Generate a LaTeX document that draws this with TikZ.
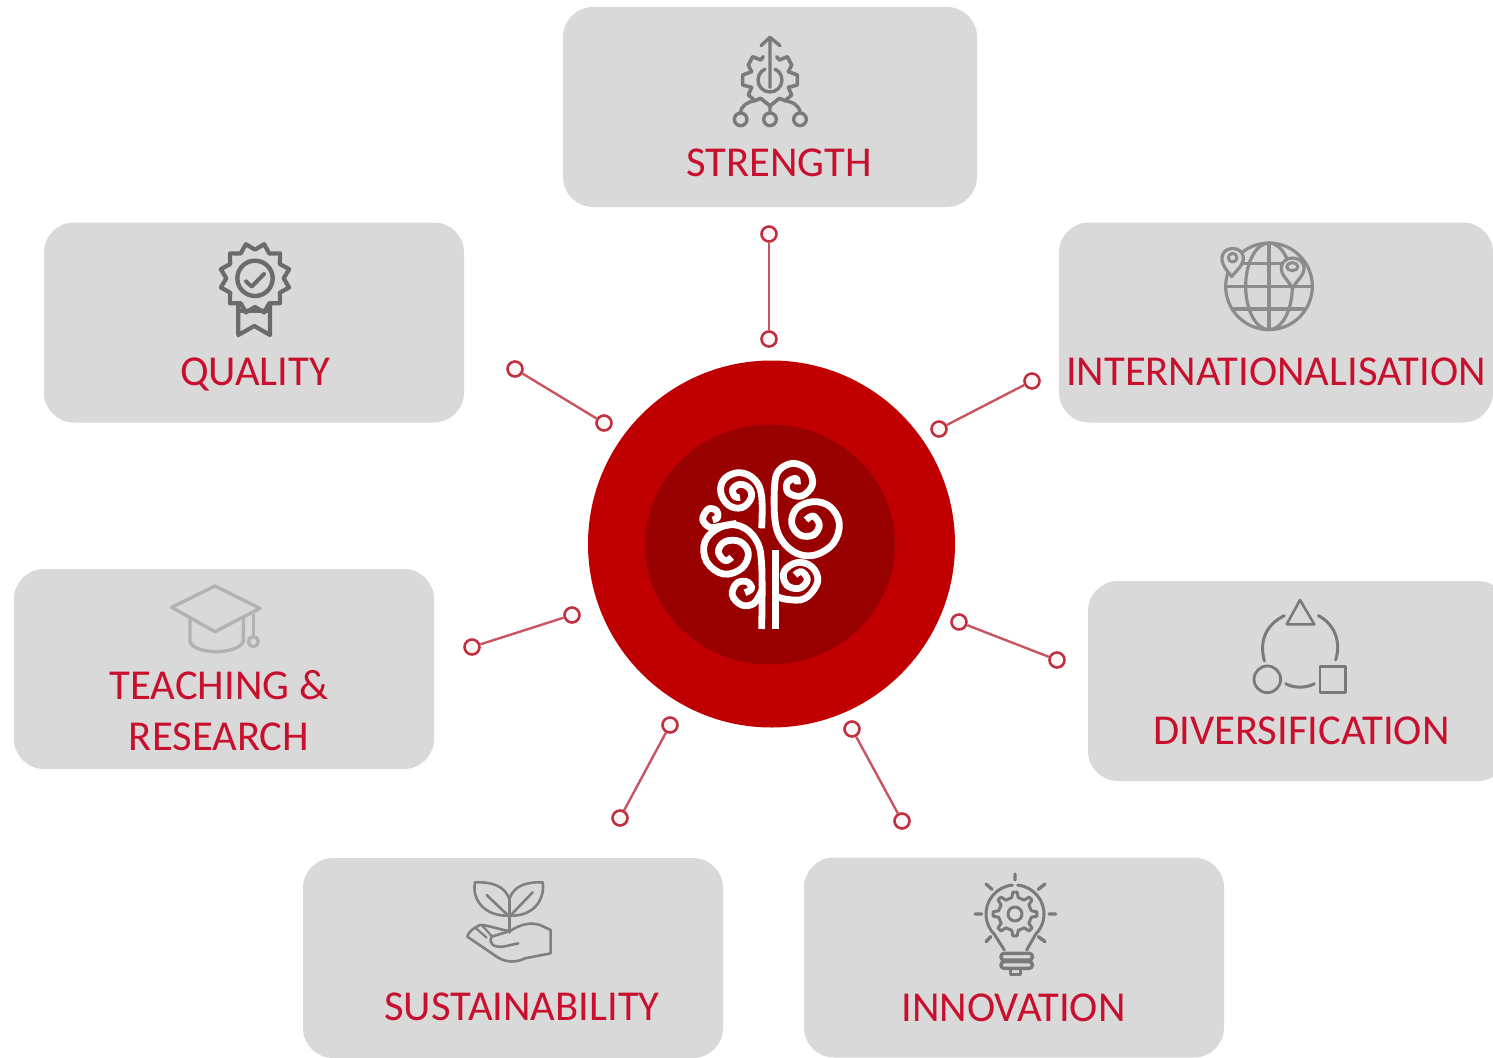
\documentclass[tikz,border=0pt]{standalone}
\usepackage{fontspec}
\setmainfont{Carlito}
\definecolor{boxgrey}{HTML}{D9D9D9}
\definecolor{labelred}{HTML}{C8102E}
\definecolor{ringred}{HTML}{C00000}
\definecolor{corered}{HTML}{990000}
\definecolor{linkred}{HTML}{C9555F}
\definecolor{dotred}{HTML}{C03040}
\newcommand{\gearloop}[6]{% cx cy rout rin n phase
  \foreach \gi in {1,...,#5}{
    -- ([shift={(#1,#2)}]{#6+\gi*360/#5-90/#5}:#4)
    -- ([shift={(#1,#2)}]{#6+\gi*360/#5-45/#5}:#3)
    -- ([shift={(#1,#2)}]{#6+\gi*360/#5+45/#5}:#3)
    -- ([shift={(#1,#2)}]{#6+\gi*360/#5+90/#5}:#4)
  }}
\tikzset{
  panel/.style={fill=boxgrey,draw=none,rounded corners=30pt,minimum height=200pt,inner sep=0pt},
  caption/.style={text=labelred,font=\fontsize{42.6}{48}\selectfont,inner sep=0pt,anchor=base},
  pin/.style={circle,draw=dotred,fill=white!95!dotred,line width=2.6pt,minimum size=15pt,inner sep=0pt},
  link/.style={draw=linkred,line width=2.4pt},
  treeline/.style={draw=white,line width=6.8pt,line cap=butt,line join=round},
  icon/.style={line width=#1,line join=round,line cap=round,fill=none},
  icon/.default=3.5pt
}
\begin{document}
\begin{tikzpicture}[x=1pt,y=-1pt]
\clip (0,0) rectangle (1493,1057);
\fill[white] (0,0) rectangle (1493,1057);

% panels
\node[panel,minimum width=414pt] (pStrength) at (770,107) {};
\node[panel,minimum width=420pt] (pQuality) at (254,322.5) {};
\node[panel,minimum width=434pt] (pIntern) at (1276,322.5) {};
\node[panel,minimum width=420pt] (pTeach) at (224,669) {};
\node[panel,minimum width=420pt] (pDivers) at (1298,681) {};
\node[panel,minimum width=420pt] (pSustain) at (513,958) {};
\node[panel,minimum width=420pt] (pInnov) at (1014,957.5) {};

% labels
\node[caption] (tStrength) at (779,176.5) {STRENGTH};
\node[caption] (tQuality) at (255,385.5) {QUALITY};
\node[caption] (tIntern) at (1276,385.5) {INTERNATIONALISATION};
\node[caption] (tTeachA) at (219,699.5) {TEACHING \&};
\node[caption] (tTeachB) at (219,750.5) {RESEARCH};
\node[caption] (tDivers) at (1301.5,744.5) {DIVERSIFICATION};
\node[caption] (tSustain) at (522,1020.5) {SUSTAINABILITY};
\node[caption] (tInnov) at (1013.5,1021.5) {INNOVATION};

% central disc
\node[circle,fill=ringred,minimum size=367pt,inner sep=0pt] (ring) at (771.5,544) {};
\fill[corered] (770,544.5) ellipse (125 and 120);

% tree
\begin{scope}[shift={(680,440)},x=0.3333pt,y=-0.3333pt]
 % top left spiral
 \draw[treeline] plot[smooth,tension=.65] coordinates{(245,265) (245,170) (225,120) (180,98) (135,115) (122,155) (145,195) (185,203) (213,175) (208,145) (180,133) (158,148) (165,170) (180,172)};
 % big left spiral
 \draw[treeline] plot[smooth,tension=.65] coordinates{(245,567) (245,375) (228,300) (180,258) (120,262) (75,305) (80,365) (130,402) (185,385) (205,340) (180,305) (135,305) (115,335) (135,362) (155,352)};
 % small curl
 \draw[treeline] plot[smooth,tension=.6] coordinates{(170,250) (125,258) (90,262) (68,238) (85,207) (110,212) (113,232) (98,240)};
 % lower left curl
 \draw[treeline] plot[smooth,tension=.65] coordinates{(245,452) (222,490) (185,495) (157,465) (170,430) (200,425) (215,445) (195,458)};
 % right stem
 \draw[treeline] (287,567)--(287,330);
 % lower right spiral
 \draw[treeline] plot[smooth,tension=.65] coordinates{(287,468) (320,478) (375,475) (413,425) (395,380) (350,368) (312,395) (320,435) (358,445) (382,420) (365,395) (345,405)};
 % top right and big right spirals
 \draw[treeline] plot[smooth,tension=.62] coordinates{(352,133) (348,115) (322,128) (325,158) (365,168) (397,135) (385,90) (340,70) (298,90) (284,135) (285,240) (305,300) (350,340) (405,345) (460,310) (478,250) (450,200) (400,185) (350,205) (335,250) (360,285) (400,285) (418,255) (400,228) (378,240)};
\end{scope}

% connectors
\node[pin] (a1) at (769,234) {}; \node[pin] (a2) at (769,339) {};
\node[pin] (b1) at (515,369) {}; \node[pin] (b2) at (604,423) {};
\node[pin] (c1) at (1032,381) {}; \node[pin] (c2) at (939,429) {};
\node[pin] (d1) at (572,615) {}; \node[pin] (d2) at (472,647) {};
\node[pin] (e1) at (959,622) {}; \node[pin] (e2) at (1057,660) {};
\node[pin] (f1) at (670,725) {}; \node[pin] (f2) at (620,818) {};
\node[pin] (g1) at (852,729) {}; \node[pin] (g2) at (902,821) {};
\draw[link] (a1)--(a2); \draw[link] (b1)--(b2); \draw[link] (c1)--(c2);
\draw[link] (d1)--(d2); \draw[link] (e1)--(e2); \draw[link] (f1)--(f2); \draw[link] (g1)--(g2);

% strength icon
\begin{scope}[shift={(720,30)},x=0.3333pt,y=-0.3333pt,color=black!52]
 \draw[icon=3.4pt] (150,172)--(150,22) (123,47)--(150,22)--(180,47);
 \draw[icon=3.4pt] ([shift={(150,150)}]-65:36) arc[start angle=-65,end angle=245,radius=36];
 \draw[icon=3.6pt] (130,80) -- (122,90) -- (98,80) -- (85,105) -- (95,125) -- (68,135) -- (68,165) -- (95,172) -- (85,195) -- (105,212) -- (122,205) -- (150,228) -- (178,205) -- (195,212) -- (215,195) -- (205,172) -- (232,165) -- (232,135) -- (205,125) -- (215,105) -- (202,80) -- (178,90) -- (170,80);
 \draw[icon=3.4pt] (62,268) circle (19) (150,268) circle (19) (240,268) circle (19);
 \draw[icon=3.4pt] (150,228)--(150,249) (105,212) to[out=190,in=90] (62,249) (195,212) to[out=-10,in=90] (240,249);
\end{scope}

% quality icon
\begin{scope}[shift={(210,240)},x=0.3333pt,y=-0.3333pt,color=black!58]
 \draw[icon=4.2pt] ([shift={(135,115)}]0:86) \foreach \q in {1,...,12}{ -- ([shift={(135,115)}]{\q*30-15}:106) -- ([shift={(135,115)}]{\q*30}:86)} -- cycle;
 \draw[icon=4.4pt] (135,115) circle (53);
 \draw[icon=4pt] (108,124)--(125,140)--(162,102);
 \draw[icon=4.2pt] (85,195)--(85,285)--(133,258)--(180,285)--(180,195) (88,212)--(178,212);
\end{scope}

% globe icon
\begin{scope}[shift={(1210,235)},x=0.3333pt,y=-0.3333pt,color=black!45]
 \draw[icon=3.2pt] (177,154) circle (130);
 \draw[icon=3.2pt] (177,154) ellipse (70 and 130);
 \draw[icon=3.2pt] (177,24)--(177,284) (47,154)--(307,154) (72,86)--(282,86) (72,222)--(282,222);
 \draw[icon=3.2pt,fill=boxgrey] (65,125) .. controls (50,105) and (34,90) .. (36,66) .. controls (40,32) and (96,32) .. (100,66) .. controls (102,90) and (80,105) .. (65,125) -- cycle;
 \draw[icon=3pt] (68,68) circle (13);
 \draw[icon=3.2pt,fill=boxgrey] (248,160) .. controls (235,135) and (212,122) .. (214,96) .. controls (218,60) and (278,60) .. (282,96) .. controls (284,122) and (260,135) .. (248,160) -- cycle;
 \draw[icon=3pt] (247,95) ellipse (17 and 12);
\end{scope}

% graduation cap icon
\begin{scope}[shift={(165,580)},x=0.3333pt,y=-0.3333pt,color=black!30]
 \draw[icon=3.4pt] (20,82)--(150,18)--(285,85)--(150,155)--cycle;
 \draw[icon=3.4pt] (75,115)--(75,185) .. controls (90,225) and (215,225) .. (235,185)--(235,112);
 \draw[icon=3.4pt] (265,97)--(265,170);
 \draw[icon=3.4pt] (265,185) circle (15);
\end{scope}

% diversification icon
\begin{scope}[shift={(1245,595)},x=0.3333pt,y=-0.3333pt,color=black!52]
 \draw[icon=2.6pt] (165,15)--(125,88)--(208,88)--cycle;
 \draw[icon=3pt] (118,62) .. controls (70,85) and (40,130) .. (58,198);
 \draw[icon=3pt] (220,62) .. controls (265,85) and (290,135) .. (272,195);
 \draw[icon=3pt] (122,266) .. controls (145,280) and (185,280) .. (208,266);
 \draw[icon=2.8pt] (67,253) circle (40);
 \draw[icon=2.6pt] (225,215) rectangle (302,292);
\end{scope}

% sustainability icon
\begin{scope}[shift={(460,875)},x=0.3333pt,y=-0.3333pt,color=black!50]
 \draw[icon=2.6pt] (148,72) .. controls (135,35) and (100,20) .. (45,22) .. controls (35,70) and (70,125) .. (148,122);
 \draw[icon=2.6pt] (148,72) .. controls (160,35) and (195,20) .. (248,22) .. controls (255,70) and (225,125) .. (148,122);
 \draw[icon=2.6pt] (80,60)--(148,125) (218,52)--(148,125);
 \draw[icon=3.2pt] (148,72)--(148,172);
 \draw[icon=2.6pt] (272,235)--(272,165)--(240,150) .. controls (215,142) and (185,145) .. (150,168) .. controls (120,165) and (85,150) .. (60,150) .. controls (40,160) and (25,170) .. (22,185) -- (110,245) .. controls (140,265) and (170,262) .. (195,250) -- (272,235);
 \draw[icon=2.6pt] (95,185) .. controls (85,205) and (100,218) .. (130,215) -- (175,205);
 \draw[icon=2.6pt] (150,168) -- (95,185);
 \draw[icon=2.2pt] (65,150)--(95,183) (48,160)--(80,188);
\end{scope}

% innovation icon
\begin{scope}[shift={(970,870)},x=0.3333pt,y=-0.3333pt,color=black!52]
 \draw[icon=3pt] ([shift={(135,132)}]-95:87) arc[start angle=-95,end angle=-225,radius=87] -- (103,240);
 \draw[icon=3pt] ([shift={(135,132)}]-85:87) arc[start angle=-85,end angle=45,radius=87] -- (170,240);
 \draw[icon=3pt] ([shift={(135,132)}]33.75:50) \gearloop{135}{132}{66}{50}{8}{0} -- cycle;
 \draw[icon=3pt] (135,132) circle (21);
 \draw[icon=3.4pt,rounded corners=3pt] (93,250) rectangle (187,270) (93,275) rectangle (187,295);
 \draw[icon=3pt] (120,297)--(120,314)--(152,314)--(152,297);
 \draw[icon=3.4pt] (135,12)--(135,30) (48,42)--(66,58) (225,42)--(205,58) (15,132)--(35,132) (237,132)--(257,132) (48,215)--(62,200) (225,215)--(205,200);
\end{scope}
\end{tikzpicture}
\end{document}
